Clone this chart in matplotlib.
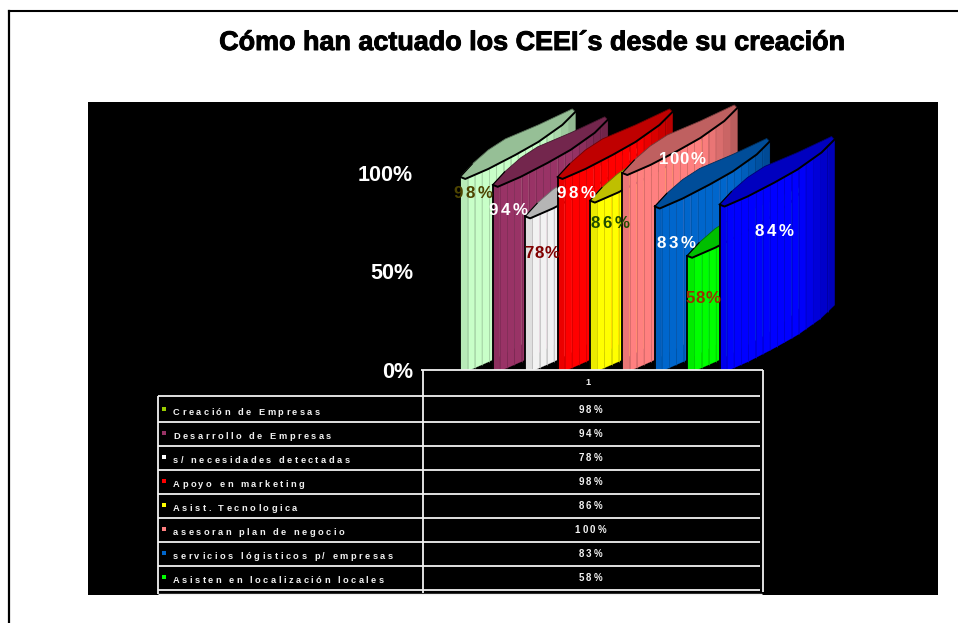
import numpy as np
import matplotlib
matplotlib.use("Agg")
import matplotlib.pyplot as plt
import matplotlib.patheffects as pe
from matplotlib.collections import LineCollection
from matplotlib.colors import to_rgb
from matplotlib.lines import Line2D
from matplotlib.patches import Polygon, Rectangle
from matplotlib.text import Text
from matplotlib.transforms import Affine2D

# ---- data ----
categories = ["Creación de Empresas", "Desarrollo de Empresas", "s/ necesidades detectadas",
              "Apoyo en marketing", "Asist. Tecnologica", "asesoran plan de negocio",
              "servicios lógisticos p/ empresas", "Asisten en localización locales", "Otros"]
values = [98, 94, 78, 98, 86, 100, 83, 58, 84]
colors = ["#C8FFC8", "#993366", "#F2F2F2", "#FF0000", "#FFFF00", "#FF8080", "#0066CC", "#00FF00", "#0000FF"]
marker_colors = ["#99CC00", "#993366", "#FFFFFF", "#FF0000", "#FFFF00", "#FF8080", "#0066CC", "#00FF00"]
label_colors = ["#4D4400", "#FFFFFF", "#800000", "#FFFFFF", "#1F4D00", "#FFFFFF", "#FFFFFF", "#993300", "#FFFFFF"]
y_ticks = [0, 50, 100]
y_tick_labels = ["0%", "50%", "100%"]
title = "Cómo han actuado los CEEI´s desde su creación"
series_header = "1"

# ---- layout (pixels) ----
W, H = 958, 623
PX = Affine2D().scale(1, -1).translate(0, H)
BLACK = (88, 102, 938, 595)
X0, X_STEP = 460.3, 32.4
Y0, Y_STEP = 370.0, 1.97
LOW = np.array([(0, 0), (5, 2), (28, -8), (55, -22), (78, -35), (102, -52), (115, -65)], float)
UP = np.array([(0, 0), (12, -13), (28, -27), (45, -38), (78, -52), (112, -68), (115, -65)], float)
BANDS = np.arange(0, 116, 7.2)
LABEL_PX = [(473, 192), (508, 209), (542, 252), (576, 192), (610, 222), (682, 158), (676, 242), (703, 297), (774, 230)]
LABEL_GAP = [2.3, 2.3, 0.6, 2.3, 2.3, 1.2, 2.3, 0.6, 2.3]
ROW_Y = [396, 421.5, 445.5, 469.5, 493.5, 517.5, 541.5, 565.5, 589.5]

plt.rcParams["font.family"] = ["Liberation Sans", "DejaVu Sans"]


class SpacedText(Text):
    """A single text whose glyphs are drawn with extra letter spacing."""

    def __init__(self, *a, gap=0.0, **k):
        super().__init__(*a, **k)
        self.gap = gap

    def draw(self, renderer):
        s, fp = self.get_text(), self.get_fontproperties()
        x, y = self.get_transform().transform(self.get_position())
        space = fp.get_size_in_points() * renderer.points_to_pixels(1) * 0.28
        adv = []
        for c in s:
            w = renderer.get_text_width_height_descent(c, fp, False)[0]
            adv.append((space if c == " " else w) + self.gap)
        if self.get_ha() == "center":
            x -= (sum(adv) - self.gap) / 2
        h = renderer.get_text_width_height_descent("0", fp, False)[1]
        y = renderer.height - y + h / 2
        gc = renderer.new_gc()
        gc.set_foreground(self.get_color())
        gc.set_alpha(1.0)
        for c, a in zip(s, adv):
            if c != " ":
                renderer.draw_text(gc, x, y, c, fp, 0)
            x += a
        gc.restore()


fig = plt.figure(figsize=(W / 100, H / 100), dpi=100, facecolor="white")
L, T, R, B = BLACK
ax = fig.add_axes([L / W, 1 - B / H, (R - L) / W, (B - T) / H], facecolor="black")
ax.set_xlim((L - X0) / X_STEP, (R - X0) / X_STEP)
ax.set_ylim((Y0 - B) / Y_STEP, (Y0 - T) / Y_STEP)
for s in ax.spines.values():
    s.set_visible(False)
ax.set_xticks([])
ax.set_yticks(y_ticks, y_tick_labels)
ax.tick_params(axis="y", length=0, pad=-(413 - L) * 0.72, labelcolor="white", labelsize=15.5)
for t in ax.get_yticklabels():
    t.set_fontweight("bold")


def shade(c, f):
    return tuple(min(1, v * f) for v in to_rgb(c))


def to_data(i, v, dx, dy):
    """Pixel offsets from the front corner of a column -> data coordinates."""
    return i + np.asarray(dx) / X_STEP, v - np.asarray(dy) / Y_STEP


for i, (v, c) in enumerate(zip(values, colors)):
    z = 2 + i
    # body, split in vertical bands
    for a, b in zip(BANDS[:-1], BANDS[1:]):
        xs = np.array([a, b])
        low = np.interp(xs, LOW[:, 0], LOW[:, 1])
        xt, yt = to_data(i, v, xs, low)
        xb, yb = to_data(i, 0, xs, low)
        mid = (a + b) / 2
        f = 0.92 if mid < 4 else (1.0 if mid < 80 else 1.0 - (mid - 80) / 35 * 0.3)
        ax.add_patch(Polygon(np.c_[[xt[0], xt[1], xb[1], xb[0]], [yt[0], yt[1], yb[1], yb[0]]],
                             fc=shade(c, f), ec=shade(c, f), lw=0.2, zorder=z))
    # thin stripes
    seg = []
    for a in BANDS[1:-1]:
        low = np.interp(a, LOW[:, 0], LOW[:, 1])
        xt, yt = to_data(i, v, a, low)
        xb, yb = to_data(i, 0, a, low)
        seg.append([(xt, yt), (xb, yb)])
    stripe = (0.72, 0.72, 0.72) if c == "#F2F2F2" else shade(c, 0.8)
    ax.add_collection(LineCollection(seg, colors=[stripe], linewidths=0.5, zorder=z))
    # top face
    dx = np.r_[UP[:, 0], LOW[::-1, 0]]
    dy = np.r_[UP[:, 1], LOW[::-1, 1]]
    xt, yt = to_data(i, v, dx, dy)
    ax.add_patch(Polygon(np.c_[xt, yt], fc=shade(c, 0.75), ec=shade(c, 0.45), lw=0.6, zorder=z))
    # outlines
    xl, yl = to_data(i, v, LOW[:, 0], LOW[:, 1])
    ax.plot(xl, yl, color="black", lw=1.4, zorder=z, solid_capstyle="round")
    ax.plot([i, i], [0, v], color="black", lw=1.3, zorder=z)
    xu, yu = to_data(i, v, UP[:2, 0], UP[:2, 1])
    ax.plot(xu, yu, color="black", lw=0.8, zorder=z)

# value labels
for v, col, (px, py), gap in zip(values, label_colors, LABEL_PX, LABEL_GAP):
    ax.add_artist(SpacedText(px, py, f"{v}%", gap=gap, color=col, fontsize=12.2, fontweight="bold",
                             ha="center", transform=PX, zorder=30, clip_on=False))

# table
WHITE = "#F2F2F2"
ax.add_patch(Rectangle((158, 396), 762 - 158, 198, transform=PX, fc="black", ec="none", zorder=20))
ax.add_patch(Rectangle((422, 370), 341, 26, transform=PX, fc="black", ec="none", zorder=20))


def tline(x, y, lw=1.3):
    ax.add_line(Line2D(x, y, color=WHITE, lw=lw, transform=PX, zorder=21, clip_on=False,
                       solid_capstyle="butt"))


tline([421, 763], [370.3, 370.3])
tline([422.5, 422.5], [370, 593])
tline([762.5, 762.5], [370, 592])
tline([158, 158], [396, 594])
tline([158, 760], [396, 396])
for y in ROW_Y[1:]:
    tline([158, 760], [y, y])
tline([158, 762], [593.5, 593.5], lw=1.0)

ax.add_artist(SpacedText(588, 381.7, series_header, color=WHITE, fontsize=6.6, fontweight="bold",
                         ha="center", transform=PX, zorder=22))
for k, (name, v, mc) in enumerate(zip(categories[:8], values[:8], marker_colors)):
    yt = 411.7 + 24 * k
    yv = 409.3 + 24 * k
    ax.add_patch(Rectangle((162, yv - 2), 4, 4, transform=PX, fc=mc, ec="none", zorder=22))
    ax.add_artist(SpacedText(173, yt, name, gap=2.47, color=WHITE, fontsize=6.7, fontweight="bold",
                             transform=PX, zorder=22, clip_on=False))
    ax.add_artist(SpacedText(590.5, yv, f"{v}%", gap=2.4, color=WHITE, fontsize=7.0, fontweight="bold",
                             ha="center", transform=PX, zorder=22, clip_on=False))

# frame on the page
fig.add_artist(Line2D([9, 9], [10.5, H], color="black", lw=1.6, transform=PX))
fig.add_artist(Line2D([9, W], [11, 11], color="black", lw=1.5, transform=PX))

fig.text(531 / W, 1 - 43 / H, title, ha="center", va="center", color="black",
         fontsize=19.4, fontweight="bold",
         path_effects=[pe.withStroke(linewidth=0.7, foreground="black")])

fig.savefig("out.png", dpi=100, facecolor="white")
